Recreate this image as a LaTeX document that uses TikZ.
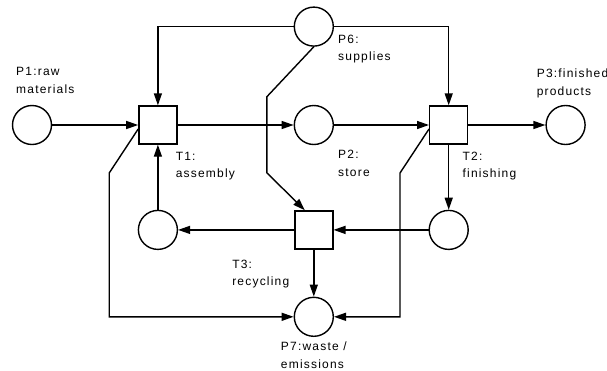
\documentclass[tikz,border=0pt]{standalone}
\usepackage{fontspec}
\setmainfont{Liberation Sans}[LetterSpace=10]
\usepackage{tikz}
\usetikzlibrary{arrows.meta, positioning, calc}
\tikzset{
    place_circ/.style={circle, draw, line width=1.4pt, minimum size=39pt, inner sep=0pt},
    trans_box/.style={rectangle, draw, line width=1.4pt, minimum size=38pt, inner sep=0pt},
    lbl/.style={align=left, inner sep=0pt, font=\fontsize{12}{17.5}\selectfont},
    arrow/.style={-{Triangle[length=12pt, width=8pt]}, line width=1.4pt}
}

\begin{document}
\begin{tikzpicture}[x=1pt, y=-1pt, node distance=80pt and 80pt]
			\useasboundingbox (0,0) rectangle (607,370);
			% places and transitions
			\node (p1) [place_circ] at (32,125) {};
			\node (t1) [trans_box, right=86pt of p1] {};
			\node (p2) [place_circ, right=116pt of t1] {};
			\node (t2) [trans_box, right=95pt of p2] {};
			\node (p3) [place_circ, right=77pt of t2] {};
			\node (p6) [place_circ, above=58pt of p2] {};
			\node (t3) [trans_box, below=65pt of p2] {};
			\node (p4) [place_circ, left=116pt of t3] {};
			\node (p5) [place_circ, right=95pt of t3] {};
			\node (p7) [place_circ, below=47pt of t3] {};
			
			% labels
			\node (lp1) [lbl, above right=11pt and -16pt of p1.north] {P1:raw\\materials};
			\node (lp6) [lbl, below right=8pt and 4pt of p6.east] {P6:\\supplies};
			\node (lp3) [lbl, above right=7pt and -29pt of p3.north] {P3:finished\\products};
			\node (lp2) [lbl, below right=25pt and 4pt of p2.east] {P2:\\store};
			\node (lt1) [lbl, below right=7pt and -2pt of t1] {T1:\\assembly};
			\node (lt2) [lbl, below right=7pt and -6pt of t2] {T2:\\finishing};
			\node (lt3) [lbl, below right=10pt and -62pt of t3.south west] {T3:\\recycling};
			\node (lp7) [lbl, below=5pt of p7] {P7:waste /\\emissions};
			
			\draw [arrow] (p1) -- (t1);
			\draw [arrow] (t1) -- (p2);
			\draw [arrow] (p2) -- (t2);
			\draw [arrow] (t2) -- (p3);
			\draw [arrow] (p6) -| (t1);
			\draw [arrow] (p6) -| (t2);
			\draw [arrow] (p6.south) -- ++(-47,50) -- ++(0,76) -- ($(t3.north)+(-9,0)$);
			\draw [arrow] (t2) -- (p5);
			\draw [arrow] (p5) -- (t3);
			\draw [arrow] (t3) -- (p4);
			\draw [arrow] (p4) -- (t1);
			\draw [arrow] (t3) -- (p7);
			\draw [arrow] ($(t1.west)+(0,4)$) -- ++(-29,44) |- (p7);
			\draw [arrow] ($(t2.west)+(0,4)$) -- ++(-29,44) |- (p7);
		\end{tikzpicture}
\end{document}
